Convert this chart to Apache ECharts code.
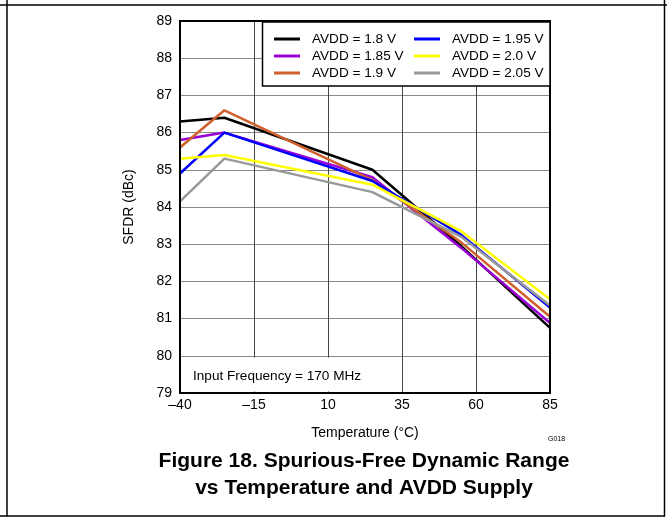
<!DOCTYPE html>
<html>
<head>
<meta charset="utf-8">
<script src="https://cdn.jsdelivr.net/npm/echarts@6/dist/echarts.min.js"></script>
<style>
html,body{margin:0;padding:0;background:#fff;}
#chart{width:667px;height:518px;}
</style>
</head>
<body>
<div id="chart"></div>
<script>
// ---- data ----
var temperatures = [-40, -25, 25, 55, 85];
var seriesNames = ['AVDD = 1.8 V', 'AVDD = 1.85 V', 'AVDD = 1.9 V', 'AVDD = 1.95 V', 'AVDD = 2.0 V', 'AVDD = 2.05 V'];
var sfdr_1_8  = [86.3, 86.4, 85.0, 82.95, 80.75];
var sfdr_1_85 = [85.8, 86.0, 84.8, 82.9, 80.88];
var sfdr_1_9  = [85.6, 86.6, 84.72, 83.05, 81.05];
var sfdr_1_95 = [84.9, 86.0, 84.7, 83.25, 81.3];
var sfdr_2_0  = [85.3, 85.4, 84.6, 83.35, 81.52];
var sfdr_2_05 = [84.15, 85.3, 84.4, 83.2, 81.35];
var xTickLabels = [-40, -15, 10, 35, 60, 85];
var yTickLabels = [79, 80, 81, 82, 83, 84, 85, 86, 87, 88, 89];

var seriesValues = [sfdr_1_8, sfdr_1_85, sfdr_1_9, sfdr_1_95, sfdr_2_0, sfdr_2_05];
var colors = ['#000000', '#9a00d6', '#d0602c', '#0000ff', '#ffff00', '#999999'];

var X_OFFSET = -xTickLabels[0]; // axis runs 0..125 so ticks land on -40,-15,...
var FONT = '"Liberation Sans", Arial, sans-serif';

function fmtTemp(v) {
  var t = Math.round(v - X_OFFSET);
  return t < 0 ? '\u2013' + Math.abs(t) : String(t);
}

var chart = echarts.init(document.getElementById('chart'), null, {renderer: 'canvas'});

var series = seriesNames.map(function (name, i) {
  return {
    name: name,
    type: 'line',
    data: temperatures.map(function (t, j) { return [t + X_OFFSET, seriesValues[i][j]]; }),
    symbol: 'none',
    lineStyle: {color: colors[i], width: 2.5},
    itemStyle: {color: colors[i]},
    z: 2,
    animation: false
  };
});

function legendCfg(names, left) {
  return {
    data: names,
    orient: 'vertical',
    left: left,
    top: 32,
    itemWidth: 26,
    itemHeight: 3,
    itemGap: 3,
    icon: 'rect',
    selectedMode: false,
    padding: 0,
    z: 10,
    textStyle: {fontFamily: FONT, fontSize: 13.6, color: '#000', padding: [0, 0, 0, 7], lineHeight: 13}
  };
}

var option = {
  backgroundColor: '#fff',
  animation: false,
  grid: {left: 180, top: 21, width: 370, height: 372, show: true, borderColor: '#000', borderWidth: 2, backgroundColor: 'transparent', z: 3},
  xAxis: {
    type: 'value', min: 0, max: xTickLabels[xTickLabels.length - 1] + X_OFFSET, interval: 25,
    name: 'Temperature (\u00b0C)', nameLocation: 'middle', nameGap: 33,
    nameTextStyle: {fontFamily: FONT, fontSize: 14, color: '#000'},
    axisLine: {show: true, lineStyle: {color: '#000', width: 2}},
    axisTick: {show: false},
    axisLabel: {fontFamily: FONT, fontSize: 14, color: '#000', margin: 5, formatter: fmtTemp},
    splitLine: {show: true, lineStyle: {color: '#444', width: 1}}
  },
  yAxis: {
    type: 'value', min: yTickLabels[0], max: yTickLabels[yTickLabels.length - 1], interval: 1,
    name: 'SFDR (dBc)', nameLocation: 'middle', nameGap: 44, nameRotate: 90,
    nameTextStyle: {fontFamily: FONT, fontSize: 14, color: '#000'},
    axisLine: {show: true, lineStyle: {color: '#000', width: 2}},
    axisTick: {show: false},
    axisLabel: {fontFamily: FONT, fontSize: 14, color: '#000', margin: 8},
    splitLine: {show: true, lineStyle: {color: '#888', width: 1}}
  },
  legend: [
    legendCfg(seriesNames.slice(0, 3), 274),
    legendCfg(seriesNames.slice(3, 6), 414)
  ],
  graphic: [
    // legend box
    {type: 'rect', z: 8, shape: {x: 262.5, y: 22, width: 287.5, height: 64}, style: {fill: '#fff', stroke: '#000', lineWidth: 1.5}},
    // annotation box
    {type: 'rect', z: 8, shape: {x: 181.5, y: 357.5, width: 191, height: 34}, style: {fill: '#fff'}},
    {type: 'text', z: 9, x: 193, y: 376, style: {text: 'Input Frequency = 170 MHz', font: '13.6px ' + FONT, fill: '#000', textVerticalAlign: 'middle'}},
    {type: 'text', z: 9, x: 548, y: 439, style: {text: 'G018', font: '7px ' + FONT, fill: '#000', textVerticalAlign: 'middle'}},
    {type: 'text', z: 9, x: 364, y: 461, style: {text: 'Figure 18. Spurious-Free Dynamic Range', font: 'bold 21px ' + FONT, fill: '#000', textAlign: 'center', textVerticalAlign: 'middle'}},
    {type: 'text', z: 9, x: 364, y: 488, style: {text: 'vs Temperature and AVDD Supply', font: 'bold 21px ' + FONT, fill: '#000', textAlign: 'center', textVerticalAlign: 'middle'}},
    // page frame
    {type: 'line', z: 9, shape: {x1: 0, y1: 5, x2: 667, y2: 5}, style: {stroke: '#000', lineWidth: 1.5}},
    {type: 'line', z: 9, shape: {x1: 7, y1: 0, x2: 7, y2: 516.5}, style: {stroke: '#000', lineWidth: 1.5}},
    {type: 'line', z: 9, shape: {x1: 664.5, y1: 0, x2: 664.5, y2: 516.5}, style: {stroke: '#000', lineWidth: 1.5}},
    {type: 'line', z: 9, shape: {x1: 0, y1: 516, x2: 665, y2: 516}, style: {stroke: '#000', lineWidth: 1.5}}
  ],
  series: series
};

chart.setOption(option);
</script>
</body>
</html>
